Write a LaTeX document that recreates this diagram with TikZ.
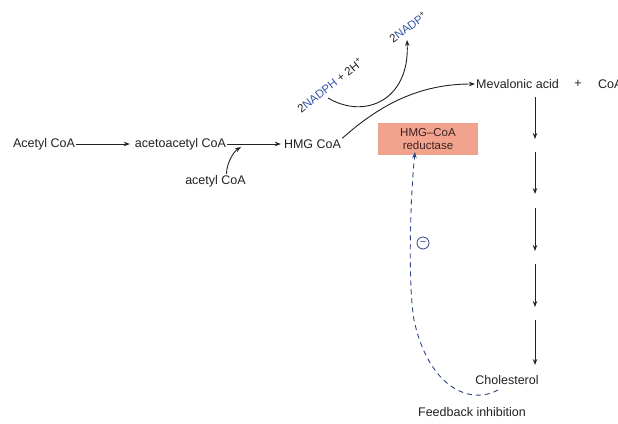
\documentclass[tikz,border=0pt]{standalone}
\usepackage{fontspec}
\setmainfont{Liberation Sans}
\usetikzlibrary{arrows.meta}
\definecolor{navy}{HTML}{2E4585}
\definecolor{nblue}{HTML}{3355A8}
\definecolor{salmon}{HTML}{F2A38E}
\definecolor{enztext}{HTML}{3A2222}
\definecolor{txt}{HTML}{222222}
\begin{document}
\begin{tikzpicture}[x=1pt,y=-1pt,
  every node/.style={font=\fontsize{12.5}{14}\selectfont, inner sep=1pt, text=txt},
  arr/.style={-{Stealth[length=6pt,width=4.5pt]}, line width=0.9pt, draw=txt},
  fbarr/.style={-{Stealth[length=6pt,width=4.5pt]}, line width=0.9pt, draw=navy, dash pattern=on 5pt off 4pt},
  enzbox/.style={fill=salmon, draw=none, minimum width=100pt, minimum height=32pt, align=center, inner sep=2pt,
     font=\fontsize{11.5}{12.5}\selectfont, text=enztext},
  minuscirc/.style={circle, draw=navy, line width=0.8pt, minimum size=12pt, inner sep=0pt, text=navy,
     font=\fontsize{11}{11}\selectfont},
  cofac/.style={font=\fontsize{11.5}{13}\selectfont, inner sep=0pt}
]
\clip (0,0) rectangle (618,423);
\useasboundingbox (0,0) rectangle (618,423);
\fill[white] (0,0) rectangle (618,423);

% nodes
\node (acetyl) at (44,144) {Acetyl CoA};
\node (aceto) at (180.5,144) {acetoacetyl CoA};
\node (hmg) at (312.5,144) {HMG CoA};
\node (acetyl2) at (215.5,181) {acetyl CoA};
\node (mev) at (517.5,84) {Mevalonic acid};
\node (plus) at (578,84) {+};
\node[anchor=west] (coa) at (597,84) {CoA};
\node[enzbox] (enz) at (428,139) {HMG–CoA\\reductase};
\node (chol) at (507,380) {Cholesterol};
\node (fb) at (472,412) {Feedback inhibition};
\node[cofac, rotate=38] (nadph) at (330,85) {2\textcolor{nblue}{NADPH} + 2H\textsuperscript{+}};
\node[cofac, rotate=36] (nadp) at (408,27) {2\textcolor{nblue}{NADP}\textsuperscript{+}};
\node[minuscirc] (inh) at (423,243) {−};

% coordinates
\coordinate (join) at (241,147);
\coordinate (n0) at (328,98);
\coordinate (n1) at (407,40);
\coordinate (v1t) at (535,97);  \coordinate (v1b) at (535,139);
\coordinate (v2t) at (535,152); \coordinate (v2b) at (535,194);
\coordinate (v3t) at (535,208); \coordinate (v3b) at (535,251);
\coordinate (v4t) at (535,264); \coordinate (v4b) at (535,307);
\coordinate (v5t) at (535,320); \coordinate (v5b) at (535,365);
\coordinate (fb0) at (498,390);

% connectors
\draw[arr, shorten >=4pt] (acetyl.east) -- (aceto.west);
\draw[arr, shorten >=2pt] (aceto.east) -- (hmg.west);
\draw[arr] ([xshift=11pt]acetyl2.north) .. controls +(0,-10) and +(-8,5) .. (join);
\draw[arr] (hmg.north east) .. controls (385,100) and (425,84) .. (mev.west);
\draw[arr] (n0) .. controls (365,120) and (410,100) .. (n1);
\draw[arr] (v1t) -- (v1b);
\draw[arr] (v2t) -- (v2b);
\draw[arr] (v3t) -- (v3b);
\draw[arr] (v4t) -- (v4b);
\draw[arr] (v5t) -- (v5b);
\draw[fbarr] (fb0) .. controls (468,406) and (428,385) .. (414,320)
   .. controls (408,285) and (410,200) .. ([xshift=-13pt,yshift=3pt]enz.south);
\end{tikzpicture}
\end{document}
